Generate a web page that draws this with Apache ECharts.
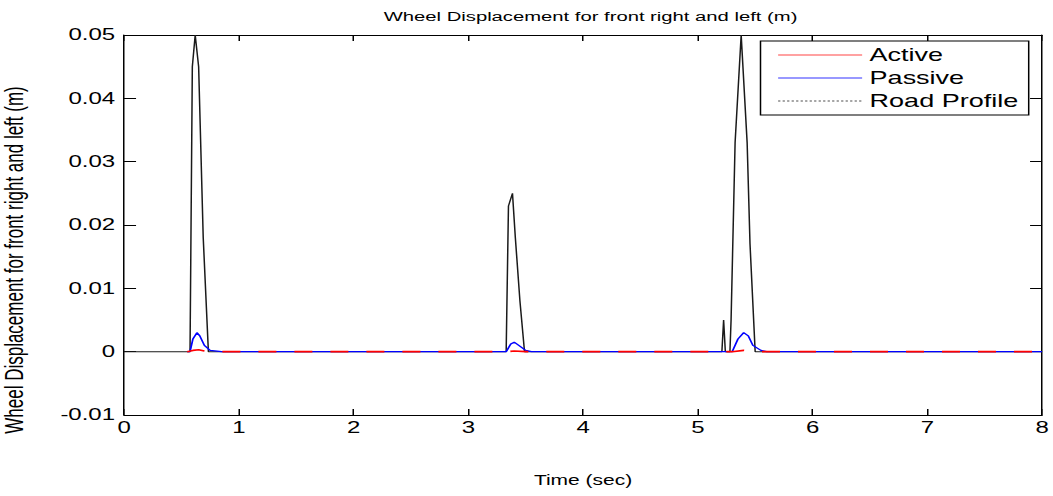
<!DOCTYPE html>
<html>
<head>
<meta charset="utf-8">
<script src="https://cdn.jsdelivr.net/npm/echarts@6/dist/echarts.min.js"></script>
<style>
html,body{margin:0;padding:0;background:#fff;}
#wrap{width:1053px;height:496px;overflow:hidden;background:#fff;}
#main{width:702px;height:496px;transform:scaleX(1.5);transform-origin:0 0;}
</style>
</head>
<body>
<div id="wrap"><div id="main"></div></div>
<script>
// ---- data ----
const titleText = 'Wheel Displacement for front right and left (m)';
const xName = 'Time (sec)';
const yName = 'Wheel Displacement for front right and left (m)';
const seriesNames = ['Active', 'Passive', 'Road Profile'];

const roadT = [0, 0.575, 0.595, 0.62, 0.65, 0.69, 0.735, 3.33, 3.35, 3.385, 3.41, 3.45, 3.49, 5.21, 5.225, 5.24, 5.28, 5.29, 5.325, 5.378, 5.43, 5.455, 5.50, 8];
const roadV = [0, 0, 0.045, 0.05, 0.045, 0.018, 0, 0, 0.023, 0.025, 0.018, 0.008, 0, 0, 0.005, 0, 0, 0.005, 0.033, 0.05, 0.033, 0.017, 0, 0];

const passT = [0.55, 0.575, 0.6, 0.635, 0.66, 0.7, 0.75, 0.85, 3.3, 3.33, 3.37, 3.4, 3.44, 3.5, 3.55, 5.27, 5.3, 5.35, 5.4, 5.44, 5.48, 5.55, 5.6, 8];
const passV = [0, 0, 0.002, 0.003, 0.0025, 0.001, 0.0002, 0, 0, 0, 0.0012, 0.0015, 0.001, 0.0002, 0, 0, 0, 0.002, 0.003, 0.0025, 0.001, 0.0002, 0, 0];

const actT = [0.55, 0.6, 0.65, 0.7, 0.75, 3.33, 3.4, 3.5, 5.3, 5.4, 5.5, 8];
const actV = [0, 0.0002, 0.0003, 0.0001, 0, 0, 0.0001, 0, 0, 0.0002, 0, 0];

const xTicks = [0, 1, 2, 3, 4, 5, 6, 7, 8];
const yTicks = [-0.01, 0, 0.01, 0.02, 0.03, 0.04, 0.05];

const pairs = (t, v) => t.map((x, i) => [x, v[i]]);

const chart = echarts.init(document.getElementById('main'), null, {renderer: 'svg'});
const font = 'Liberation Sans, Arial, sans-serif';
const axisLine = {show: true, onZero: false, lineStyle: {color: '#000', width: 1}};
const xMin = xTicks[0], xMax = xTicks[xTicks.length - 1];
const yMin = yTicks[0], yMax = yTicks[yTicks.length - 1];
const gridLeft = 82.7, gridRight = 7.3, W0 = 702;

chart.setOption({
  animation: false,
  backgroundColor: '#fff',
  title: {
    text: titleText, left: (gridLeft + (W0 - gridRight)) / 2, textAlign: 'center', top: 4,
    textStyle: {fontFamily: font, fontSize: 13.5, fontWeight: 'normal', color: '#000'}
  },
  legend: {
    orient: 'vertical', left: 507, top: 41,
    padding: [5, 7, 5, 11],
    itemWidth: 56, itemHeight: 14, itemGap: 5,
    backgroundColor: '#fff', borderColor: '#000', borderWidth: 1,
    itemStyle: {opacity: 0},
    textStyle: {fontFamily: font, fontSize: 18, color: '#000', lineHeight: 18},
    data: [
      {name: seriesNames[0], lineStyle: {type: 'solid', color: '#ff4444', width: 1}},
      {name: seriesNames[1], lineStyle: {type: 'solid', color: '#3333ff', width: 1}},
      {name: seriesNames[2], lineStyle: {type: 'dotted', color: '#888', width: 1.5}}
    ]
  },
  grid: {left: gridLeft, right: gridRight, top: 35, bottom: 81, outerBoundsMode: 'none', containLabel: false},
  xAxis: [{
    type: 'value', min: xMin, max: xMax, interval: 1,
    name: xName, nameLocation: 'middle', nameGap: 58,
    nameTextStyle: {fontFamily: font, fontSize: 14, color: '#000'},
    axisLine: axisLine,
    axisTick: {show: true, inside: true, length: 6, lineStyle: {color: '#000'}},
    axisLabel: {fontFamily: font, fontSize: 16, color: '#000', margin: 5},
    splitLine: {show: false}
  }, {
    type: 'value', position: 'top', min: xMin, max: xMax, interval: 1,
    axisLine: axisLine,
    axisTick: {show: true, inside: true, length: 6, lineStyle: {color: '#000'}},
    axisLabel: {show: false}, splitLine: {show: false}
  }],
  yAxis: [{
    type: 'value', min: yMin, max: yMax, interval: 0.01,
    name: yName, nameLocation: 'middle', nameGap: 65, nameRotate: 90,
    nameTextStyle: {fontFamily: font, fontSize: 17, color: '#000', padding: [0, 70, 0, 0]},
    axisLine: axisLine,
    axisTick: {show: true, inside: true, length: 8, lineStyle: {color: '#000'}},
    axisLabel: {fontFamily: font, fontSize: 16, color: '#000', margin: 6,
      formatter: v => String(+v.toFixed(2))},
    splitLine: {show: false}
  }, {
    type: 'value', position: 'right', min: yMin, max: yMax, interval: 0.01,
    axisLine: axisLine,
    axisTick: {show: true, inside: true, length: 8, lineStyle: {color: '#000'}},
    axisLabel: {show: false}, splitLine: {show: false}
  }],
  series: [
    {
      name: seriesNames[2], type: 'line', data: pairs(roadT, roadV),
      symbol: 'none', z: 1,
      lineStyle: {color: '#1a1a1a', width: 1}, itemStyle: {color: '#1a1a1a'}
    },
    {
      name: seriesNames[1], type: 'line', data: pairs(passT, passV),
      symbol: 'none', z: 2,
      lineStyle: {color: '#0000ff', width: 1.2}, itemStyle: {color: '#0000ff'}
    },
    {
      name: seriesNames[0], type: 'line', data: pairs(actT, actV),
      symbol: 'none', z: 3,
      lineStyle: {color: '#ff0000', width: 1.6, type: [12, 12]}, itemStyle: {color: '#ff3333'}
    }
  ]
});
</script>
</body>
</html>
